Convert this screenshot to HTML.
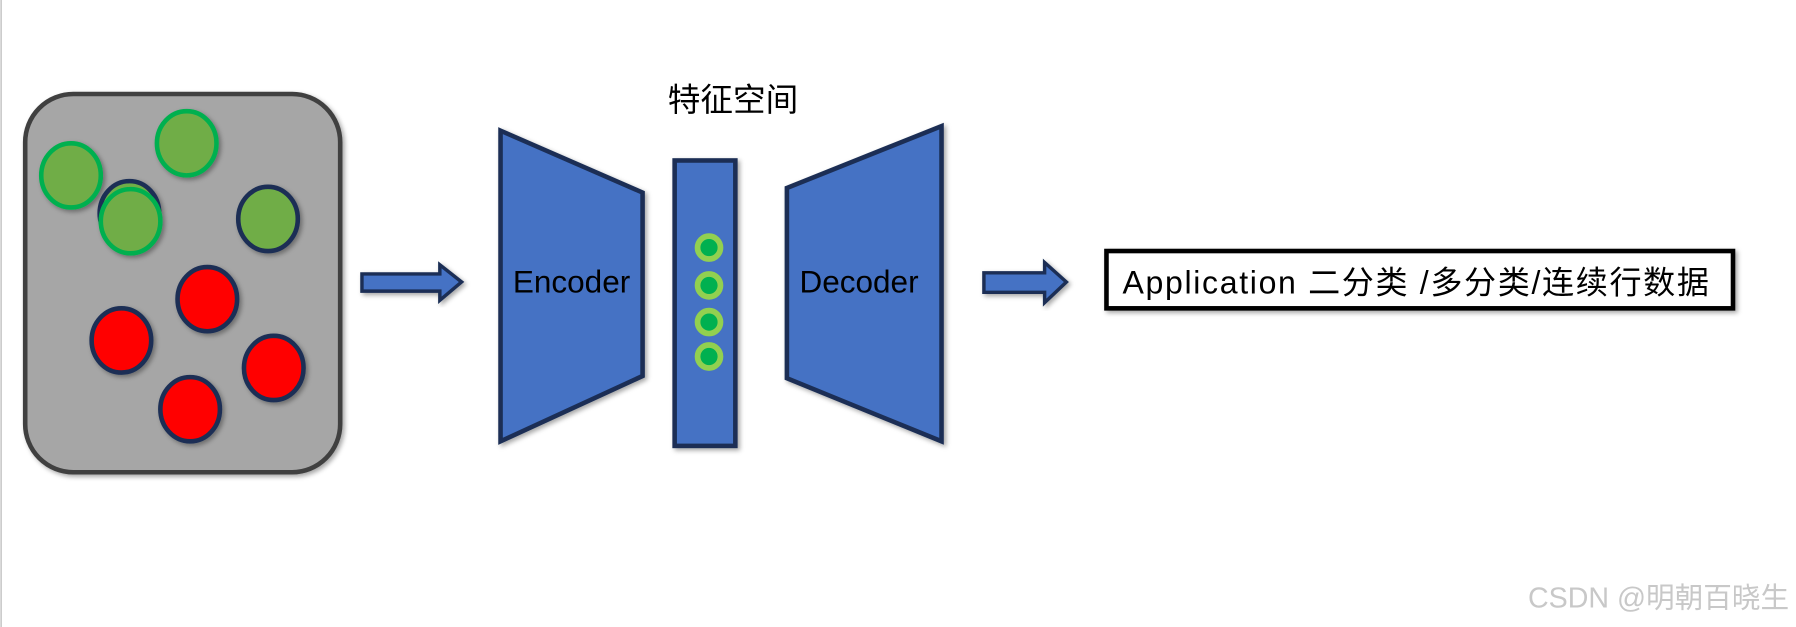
<!DOCTYPE html>
<html><head><meta charset="utf-8"><style>
html,body{margin:0;padding:0;background:#fff;}
svg{display:block;}
text{font-family:"Liberation Sans","Noto Sans CJK SC",sans-serif;}
</style></head><body>
<svg width="1796" height="627" viewBox="0 0 1568 547" preserveAspectRatio="none" xmlns="http://www.w3.org/2000/svg">
<defs>
<filter id="sh" x="-20%" y="-20%" width="140%" height="140%"><feDropShadow dx="2" dy="2" stdDeviation="2" flood-color="#000" flood-opacity="0.35"/></filter>
</defs>
<line x1="1" y1="0" x2="1" y2="547" stroke="#ccc" stroke-width="1.5"/>
<rect x="22" y="82" width="275" height="330" rx="42" fill="#a6a6a6" stroke="#404040" stroke-width="4" filter="url(#sh)"/>
<g filter="url(#sh)">
<ellipse cx="113" cy="186" rx="26" ry="28" fill="#70ad47" stroke="#1a2f55" stroke-width="4"/>
<ellipse cx="62" cy="153" rx="26" ry="28" fill="#70ad47" stroke="#00b050" stroke-width="4"/>
<ellipse cx="163" cy="125" rx="26" ry="28" fill="#70ad47" stroke="#00b050" stroke-width="4"/>
<ellipse cx="114" cy="193" rx="26" ry="28" fill="#70ad47" stroke="#00b050" stroke-width="4"/>
<ellipse cx="234" cy="191" rx="26" ry="28" fill="#70ad47" stroke="#1a2f55" stroke-width="4"/>
<ellipse cx="181" cy="261" rx="26" ry="28" fill="#ff0000" stroke="#1a2f55" stroke-width="4"/>
<ellipse cx="106" cy="297" rx="26" ry="28" fill="#ff0000" stroke="#1a2f55" stroke-width="4"/>
<ellipse cx="239" cy="321" rx="26" ry="28" fill="#ff0000" stroke="#1a2f55" stroke-width="4"/>
<ellipse cx="166" cy="357" rx="26" ry="28" fill="#ff0000" stroke="#1a2f55" stroke-width="4"/>
</g>
<polygon points="316,239 384,239 384,231 403,246 384,262 384,254 316,254" fill="#4472c4" stroke="#1a2f55" stroke-width="3" filter="url(#sh)"/>
<polygon points="437,114 561,168 561,328 437,385" fill="#4472c4" stroke="#1a2f55" stroke-width="4" filter="url(#sh)"/>
<text x="499" y="255" font-size="27.5" text-anchor="middle" fill="#000">Encoder</text>
<rect x="589" y="140" width="53" height="249" fill="#4472c4" stroke="#1a2f55" stroke-width="4" filter="url(#sh)"/>
<g fill="#00b050" stroke="#92d050" stroke-width="5">
<circle cx="619" cy="216" r="10"/><circle cx="619" cy="249" r="10"/><circle cx="619" cy="281" r="10"/><circle cx="619" cy="311" r="10"/>
</g>
<text x="640" y="97" font-size="28.5" text-anchor="middle" fill="#000">特征空间</text>
<polygon points="687,164 822,110 822,385 687,330" fill="#4472c4" stroke="#1a2f55" stroke-width="4" filter="url(#sh)"/>
<text x="750" y="255" font-size="27.5" text-anchor="middle" fill="#000">Decoder</text>
<polygon points="859,238 912,238 912,229 931,246 912,264 912,255 859,255" fill="#4472c4" stroke="#1a2f55" stroke-width="3" filter="url(#sh)"/>
<rect x="966" y="219" width="547" height="50" fill="#fff" stroke="#000" stroke-width="4" filter="url(#sh)"/>
<text x="980" y="256" font-size="28" fill="#000" textLength="512" lengthAdjust="spacing">Application  二分类 /多分类/连续行数据</text>
<text x="1562" y="530" font-size="25" text-anchor="end" fill="#c8c8c8">CSDN @明朝百晓生</text>
</svg>
</body></html>
